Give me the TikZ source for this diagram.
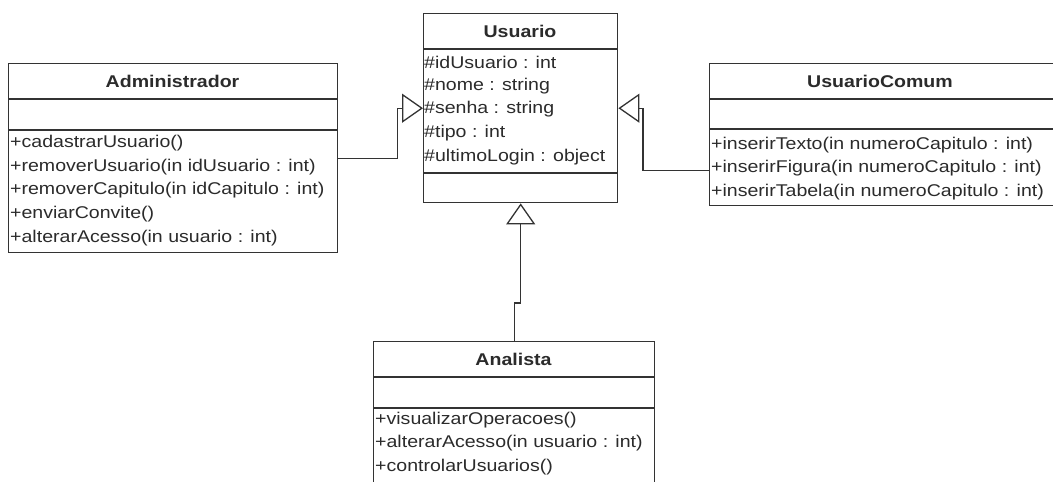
\documentclass[tikz,border=0pt]{standalone}
\usepackage{fontspec}
\setmainfont{Liberation Sans}[FakeStretch=1.15]
\usetikzlibrary{arrows.meta}
\definecolor{umlline}{HTML}{333333}
\definecolor{umltext}{HTML}{2B2B2B}
\begin{document}
\begin{tikzpicture}[x=1pt,y=-1pt,
  classbox/.style={draw=umlline, line width=1.4pt, rectangle, anchor=north west, inner sep=0pt},
  sep/.style={draw=umlline, line width=1.4pt},
  title/.style={font=\fontsize{17}{20}\selectfont\bfseries, text=umltext, inner sep=0pt},
  member/.style={font=\fontsize{17}{20}\selectfont, text=umltext, inner sep=0pt, anchor=west},
  gen/.style={draw=umlline, line width=1.3pt, line join=miter,
    -{Triangle[open, length=21pt, width=29pt, line width=1.3pt]}}]
\clip (0,0) rectangle (1053,482);
\fill[white] (0,0) rectangle (1053,482);

% Usuario
\node[classbox, minimum width=194pt, minimum height=189pt] (usu) at (423,13) {};
\draw[sep] ([yshift=-36pt]usu.north west) -- ([yshift=-36pt]usu.north east);
\draw[sep] ([yshift=-160pt]usu.north west) -- ([yshift=-160pt]usu.north east);
\node[title] (usu-t) at (520,31) {Usuario};
\foreach \txt [count=\i] in {\#idUsuario : int, \#nome : string, \#senha : string, \#tipo : int, \#ultimoLogin : object}
  \node[member] (usu-a\i) at (424,{62+23.75*(\i-1)}) {\txt};

% Administrador
\node[classbox, minimum width=329pt, minimum height=189pt] (adm) at (8,63) {};
\draw[sep] ([yshift=-36pt]adm.north west) -- ([yshift=-36pt]adm.north east);
\draw[sep] ([yshift=-67pt]adm.north west) -- ([yshift=-67pt]adm.north east);
\node[title] (adm-t) at (172.5,81) {Administrador};
\foreach \txt [count=\i] in {+cadastrarUsuario(), +removerUsuario(in idUsuario : int), +removerCapitulo(in idCapitulo : int), +enviarConvite(), +alterarAcesso(in usuario : int)}
  \node[member] (adm-m\i) at (10,{143+23.75*(\i-1)}) {\txt};

% UsuarioComum
\node[classbox, minimum width=351pt, minimum height=142pt] (uc) at (709,63) {};
\draw[sep] ([yshift=-36pt]uc.north west) -- ([yshift=-36pt]uc.north east);
\draw[sep] ([yshift=-66pt]uc.north west) -- ([yshift=-66pt]uc.north east);
\node[title] (uc-t) at (880,81) {UsuarioComum};
\foreach \txt [count=\i] in {+inserirTexto(in numeroCapitulo : int), +inserirFigura(in numeroCapitulo : int), +inserirTabela(in numeroCapitulo : int)}
  \node[member] (uc-m\i) at (711,{145+23.5*(\i-1)}) {\txt};

% Analista
\node[classbox, minimum width=281pt, minimum height=150pt] (ana) at (373,341) {};
\draw[sep] ([yshift=-36pt]ana.north west) -- ([yshift=-36pt]ana.north east);
\draw[sep] ([yshift=-67pt]ana.north west) -- ([yshift=-67pt]ana.north east);
\node[title] (ana-t) at (513.5,359) {Analista};
\foreach \txt [count=\i] in {+visualizarOperacoes(), +alterarAcesso(in usuario : int), +controlarUsuarios()}
  \node[member] (ana-m\i) at (375,{420+23.5*(\i-1)}) {\txt};

% Generalizations
\draw[gen] (adm.east) -- ++(59,0) |- (usu.west);
\draw[gen] ([yshift=-36pt]uc.west) -- ++(-66,0) |- (usu.east);
\draw[gen] (ana.north) -- ++(0,-38) -| (usu.south);
\end{tikzpicture}
\end{document}
